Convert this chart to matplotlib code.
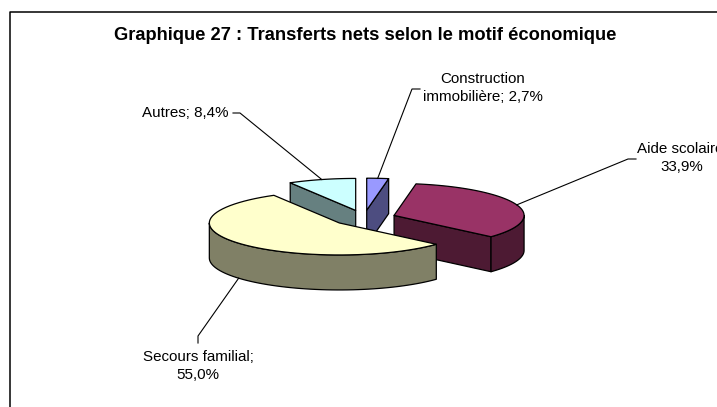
import numpy as np
import matplotlib.pyplot as plt
from matplotlib.patches import Polygon

plt.rcParams['font.family'] = ['Liberation Sans', 'DejaVu Sans']

# data (Excel 3D pie, starts at 12 o'clock, clockwise)
categories = ['Construction immobilière', 'Aide scolaire', 'Secours familial', 'Autres']
shares = [2.7, 33.9, 55.0, 8.4]
label_texts = ['Construction\nimmobilière; 2,7%', 'Aide scolaire;\n33,9%',
               'Secours familial;\n55,0%', 'Autres; 8,4%']
top_colors = ['#9999FF', '#993366', '#FFFFCC', '#CCFFFF']
title = 'Graphique 27 : Transferts nets selon le motif économique'

# layout (pixels)
W, H = 717, 407
cx, cy = 364, 218
rx, ry = 130, 32
depth = 35
explode = 0.245

# label placement: text pos, ha, elbow, tick end
label_pos = [(483, 88), (682, 158), (198, 366), (229, 113)]
label_ha = ['center', 'center', 'center', 'right']
elbows = [(412, 89), (628, 159), (198, 336), (240, 113)]
ticks = [(420, 89), (636, 159), (198, 343), (233, 113)]

fig = plt.figure(figsize=(W / 100, H / 100), dpi=100)
ax = fig.add_axes([0, 0, 1, 1])
ax.set_xlim(0, W)
ax.set_ylim(H, 0)
ax.axis('off')

# frame (right/bottom edges fall outside the picture)
ax.plot([10, 10, W + 5], [H + 5, 12, 12], color='black', lw=1.1, clip_on=False)

ax.text(365, 35, title, ha='center', va='center', fontsize=13.2, fontweight='bold')


def pt(th, ox, oy, dz=0.0):
    r = np.radians(th)
    return ox + rx * np.sin(r), oy - ry * np.cos(r) + dz


def arc(a, b, ox, oy, dz=0.0, n=60):
    th = np.linspace(a, b, n)
    xs, ys = pt(th, ox, oy, dz)
    return list(zip(xs, ys))


def darker(c, f=0.5):
    c = c.lstrip('#')
    rgb = [int(c[i:i + 2], 16) / 255 for i in (0, 2, 4)]
    return tuple(v * f for v in rgb)


total = sum(shares)
bounds = np.cumsum([0] + shares) / total * 360
slices = []
for i in range(len(shares)):
    a, b = bounds[i], bounds[i + 1]
    m = np.radians((a + b) / 2)
    ox = cx + explode * rx * np.sin(m)
    oy = cy - explode * ry * np.cos(m)
    slices.append((oy, i, a, b, ox))

ekw = dict(edgecolor='black', lw=0.9, joinstyle='round')
anchors = {}
for oy, i, a, b, ox in sorted(slices):
    top = top_colors[i]
    side = darker(top)
    # radial faces
    for edge, vis in ((a, np.sin(np.radians(a)) < -1e-9), (b, np.sin(np.radians(b)) > 1e-9)):
        if vis:
            px, py = pt(edge, ox, oy)
            poly = [(ox, oy), (px, py), (px, py + depth), (ox, oy + depth)]
            ax.add_patch(Polygon(poly, closed=True, facecolor=side, **ekw))
    # outer curved side (front half)
    s0, s1 = max(a, 90), min(b, 270)
    if s1 > s0:
        poly = arc(s0, s1, ox, oy) + arc(s1, s0, ox, oy, depth)
        ax.add_patch(Polygon(poly, closed=True, facecolor=side, **ekw))
    # top face
    poly = [(ox, oy)] + arc(a, b, ox, oy)
    ax.add_patch(Polygon(poly, closed=True, facecolor=top, **ekw))
    mid = (a + b) / 2
    anchors[i] = pt(mid, ox, oy, depth if 90 < mid < 270 else 0)

for i in range(len(shares)):
    axx, ayy = anchors[i]
    ex, ey = elbows[i]
    tx, ty = ticks[i]
    ax.plot([axx, ex, tx], [ayy, ey, ty], color='black', lw=0.8)
    ax.text(label_pos[i][0], label_pos[i][1], label_texts[i], ha=label_ha[i], va='center',
            fontsize=10.9, linespacing=1.3, multialignment='center')

fig.savefig('out.png', dpi=100)
